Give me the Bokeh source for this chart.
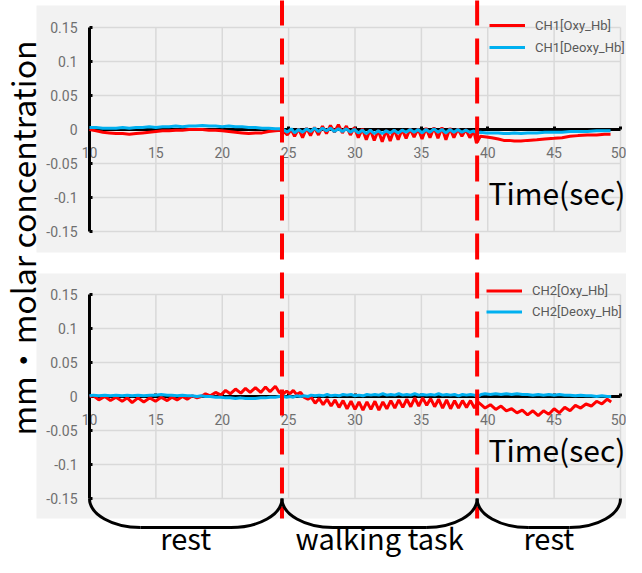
import math
from bokeh.plotting import figure
from bokeh.models import (Range1d, LinearAxis, FixedTicker, CustomJSTickFormatter,
                          Legend, LegendItem, Label)
from bokeh.core.properties import value
from bokeh.embed import file_html
from bokeh.resources import INLINE

# ---------------- data ----------------
x_ticks = [10, 15, 20, 25, 30, 35, 40, 45, 50]
y_ticks = [-0.15, -0.1, -0.05, 0, 0.05, 0.1, 0.15]
y_tick_labels = ["-0.15", "-0.1", "-0.05", "0", "0.05", "0.1", "0.15"]

event_times = [24.5, 39.2]
phase_starts = [10, 24.5, 39.2]
phase_ends = [24.5, 39.2, 50]
phase_labels = ["rest", "walking task", "rest"]

ch1_names = ["CH1[Oxy_Hb]", "CH1[Deoxy_Hb]"]
ch2_names = ["CH2[Oxy_Hb]", "CH2[Deoxy_Hb]"]

ch1_t = [10.0, 10.5, 11.0, 11.5, 12.0, 12.5, 13.0, 13.5, 14.0, 14.5,
         15.0, 15.5, 16.0, 16.5, 17.0, 17.5, 18.0, 18.5, 19.0, 19.5,
         20.0, 20.5, 21.0, 21.5, 22.0, 22.5, 23.0, 23.5, 24.0, 24.4,
         24.6, 24.9, 25.2, 25.45, 25.75, 26.05, 26.35, 26.65, 26.95, 27.25,
         27.55, 27.85, 28.15, 28.45, 28.75, 29.05, 29.35, 29.65, 29.95, 30.25,
         30.55, 30.85, 31.15, 31.45, 31.75, 32.05, 32.35, 32.65, 32.95, 33.25,
         33.55, 33.85, 34.15, 34.45, 34.75, 35.05, 35.35, 35.65, 35.95, 36.25,
         36.55, 36.85, 37.15, 37.45, 37.75, 38.05, 38.35, 38.65, 38.95, 39.15,
         39.45, 39.9, 40.3, 40.8, 41.2, 41.6, 42.0, 42.5, 43.0, 43.7,
         44.3, 45.0, 45.6, 46.2, 46.8, 47.5, 48.2, 48.8, 49.25]
ch1_oxy = [0.000, -0.002, -0.004, -0.005, -0.006, -0.006, -0.007, -0.006, -0.005, -0.004,
           -0.003, -0.002, -0.002, -0.001, -0.001, 0.000, 0.000, 0.000, -0.001, -0.001,
           -0.002, -0.003, -0.004, -0.005, -0.006, -0.005, -0.005, -0.003, -0.002, -0.001,
           -0.002, -0.008, 0.000, -0.010, 0.001, -0.012, 0.002, -0.009, 0.003, -0.008,
           0.005, -0.006, 0.006, -0.004, 0.007, -0.005, 0.005, -0.008, 0.003, -0.012,
           0.001, -0.015, 0.000, -0.016, -0.001, -0.018, -0.001, -0.017, 0.000, -0.015,
           0.000, -0.013, 0.001, -0.011, 0.001, -0.014, 0.002, -0.012, 0.003, -0.013,
           0.003, -0.015, 0.002, -0.012, 0.001, -0.010, 0.000, -0.012, -0.002, -0.020,
           -0.010, -0.011, -0.012, -0.014, -0.016, -0.016, -0.017, -0.017, -0.016, -0.015,
           -0.014, -0.013, -0.012, -0.010, -0.009, -0.008, -0.008, -0.007, -0.007]
ch1_deoxy = [0.003, 0.003, 0.002, 0.002, 0.002, 0.003, 0.002, 0.003, 0.003, 0.004,
             0.003, 0.004, 0.004, 0.005, 0.004, 0.005, 0.005, 0.006, 0.005, 0.005,
             0.004, 0.005, 0.004, 0.004, 0.003, 0.003, 0.002, 0.002, 0.001, 0.001,
             0.000, -0.004, 0.001, -0.005, 0.000, -0.004, 0.001, -0.003, 0.002, -0.003,
             0.002, -0.002, 0.002, -0.003, 0.001, -0.003, 0.001, -0.004, 0.000, -0.005,
             -0.001, -0.006, -0.001, -0.006, -0.002, -0.006, -0.002, -0.005, -0.001, -0.005,
             -0.001, -0.004, 0.000, -0.004, 0.000, -0.005, 0.000, -0.004, 0.001, -0.004,
             0.000, -0.005, 0.000, -0.004, 0.000, -0.004, -0.001, -0.004, -0.002, -0.005,
             -0.004, -0.005, -0.005, -0.005, -0.006, -0.006, -0.005, -0.006, -0.005, -0.005,
             -0.004, -0.004, -0.004, -0.003, -0.003, -0.003, -0.002, -0.002, -0.002]

ch2_t = [10.0, 10.3, 10.7, 11.15, 11.58, 12.0, 12.46, 12.85, 13.21, 13.65,
         14.09, 14.55, 14.97, 15.4, 15.85, 16.2, 16.6, 17.0, 17.36, 17.75,
         18.1, 18.4, 18.74, 19.1, 19.5, 19.9, 20.25, 20.6, 21.0, 21.4,
         21.75, 22.1, 22.5, 22.9, 23.26, 23.6, 24.0, 24.3,
         24.6, 24.85, 25.1, 25.35, 25.6, 25.9, 26.15, 26.45, 26.7, 27.0,
         27.3, 27.6, 27.9, 28.2, 28.5, 28.8, 29.1, 29.4, 29.7, 30.0,
         30.3, 30.6, 30.9, 31.2, 31.5, 31.8, 32.1, 32.4, 32.7, 33.0,
         33.3, 33.6, 33.9, 34.2, 34.5, 34.8, 35.1, 35.4, 35.7, 36.0,
         36.3, 36.6, 36.9, 37.2, 37.5, 37.8, 38.1, 38.4, 38.7, 39.0, 39.25,
         39.5, 39.8, 40.2, 40.6, 41.0, 41.4, 41.8, 42.2, 42.6, 43.0,
         43.4, 43.8, 44.2, 44.6, 45.0, 45.4, 45.8, 46.2, 46.6, 47.0,
         47.4, 47.8, 48.2, 48.6, 49.0, 49.3]
ch2_oxy = [0.000, 0.001, -0.005, 0.000, -0.006, -0.001, -0.007, -0.002, -0.009, -0.002,
           -0.008, -0.002, -0.007, -0.001, -0.006, -0.001, -0.005, 0.000, -0.004, 0.001,
           -0.002, 0.000, 0.004, 0.001, 0.006, 0.002, 0.009, 0.004, 0.011, 0.005,
           0.012, 0.006, 0.013, 0.006, 0.014, 0.007, 0.015, 0.006,
           0.004, 0.008, 0.004, 0.009, 0.003, 0.006, -0.001, -0.004, -0.001, -0.010,
           -0.003, -0.012, -0.004, -0.014, -0.005, -0.016, -0.006, -0.018, -0.007, -0.019,
           -0.008, -0.020, -0.008, -0.019, -0.007, -0.020, -0.008, -0.018, -0.006, -0.017,
           -0.005, -0.016, -0.004, -0.015, -0.002, -0.014, -0.002, -0.013, -0.003, -0.015,
           -0.004, -0.017, -0.005, -0.018, -0.006, -0.017, -0.006, -0.016, -0.006, -0.017, -0.008,
           -0.012, -0.017, -0.012, -0.019, -0.014, -0.021, -0.018, -0.024, -0.020, -0.027,
           -0.021, -0.028, -0.021, -0.026, -0.018, -0.024, -0.016, -0.021, -0.013, -0.017,
           -0.011, -0.014, -0.007, -0.011, -0.004, -0.008]
ch2_deoxy = [0.001, 0.002, 0.001, 0.002, 0.001, 0.002, 0.001, 0.002, 0.001, 0.002,
             0.001, 0.002, 0.002, 0.003, 0.002, 0.002, 0.001, 0.002, 0.001, 0.001,
             0.000, 0.001, 0.000, 0.000, -0.001, -0.001, -0.002, -0.002, -0.003, -0.002,
             -0.003, -0.003, -0.003, -0.002, -0.002, -0.001, -0.001, 0.000,
             0.000, -0.001, 0.000, -0.001, 0.001, 0.000, 0.001, 0.000, 0.002, 0.001,
             0.002, 0.001, 0.003, 0.001, 0.002, 0.001, 0.003, 0.002, 0.003, 0.001,
             0.002, 0.001, 0.003, 0.002, 0.003, 0.002, 0.004, 0.002, 0.003, 0.002,
             0.004, 0.002, 0.003, 0.002, 0.004, 0.002, 0.003, 0.002, 0.003, 0.002,
             0.004, 0.002, 0.003, 0.002, 0.003, 0.001, 0.003, 0.002, 0.003, 0.002, 0.000,
             0.003, 0.004, 0.003, 0.004, 0.003, 0.004, 0.003, 0.004, 0.003, 0.003,
             0.002, 0.003, 0.002, 0.003, 0.002, 0.003, 0.002, 0.002, 0.001, 0.002,
             0.001, 0.001, 0.000, 0.001, 0.000, 0.000]

assert len(ch1_t) == len(ch1_oxy) == len(ch1_deoxy)
assert len(ch2_t) == len(ch2_oxy) == len(ch2_deoxy)

# ---------------- layout (canvas pixels) ----------------
W, H = 626, 557
X10_PX, X50_PX = 89, 620
TOP_Y15_PX, TOP_YM15_PX = 27, 231
BOT_Y15_PX = 294
sec_per_px = 40.0 / (X50_PX - X10_PX)
val_per_px = 0.3 / (TOP_YM15_PX - TOP_Y15_PX)
x_start = 10 - X10_PX * sec_per_px
x_end = 50 + (W - X50_PX) * sec_per_px
top_end = 0.15 + TOP_Y15_PX * val_per_px
top_start = top_end - H * val_per_px
bot_end = 0.15 + BOT_Y15_PX * val_per_px
bot_start = bot_end - H * val_per_px


def tx(px):
    return x_start + px * sec_per_px


def ty(py, end):
    return end - py * val_per_px


RED = "#ff0000"
BLUE = "#00b0f0"
GRAY_BG = "#f2f2f2"
GRID = "#d9d9d9"
TICK_FONT = "Roboto"
JP_FONT = "Noto Sans CJK JP"

p = figure(width=W, height=H, x_range=Range1d(x_start, x_end),
           y_range=Range1d(top_start, top_end), output_backend="svg",
           toolbar_location=None, min_border=0, outline_line_color=None,
           background_fill_color="white", border_fill_color="white")
p.extra_y_ranges = {"bot": Range1d(bot_start, bot_end)}
p.xgrid.visible = False
p.ygrid.visible = False

# panel backgrounds
p.quad(left=[tx(36)], right=[tx(W + 20)], top=[ty(5, top_end)], bottom=[ty(252, top_end)],
       fill_color=GRAY_BG, line_color=None, level="image")
p.quad(left=[tx(36)], right=[tx(W + 20)], top=[ty(273, bot_end)], bottom=[ty(518, bot_end)],
       fill_color=GRAY_BG, line_color=None, level="image", y_range_name="bot")

# grid lines
for rn in ("default", "bot"):
    p.segment(x0=x_ticks, x1=x_ticks, y0=[min(y_ticks)] * len(x_ticks),
              y1=[max(y_ticks)] * len(x_ticks), line_color=GRID, line_width=1.5,
              level="image", y_range_name=rn)
    p.segment(x0=[min(x_ticks)] * len(y_ticks), x1=[max(x_ticks)] * len(y_ticks),
              y0=y_ticks, y1=y_ticks, line_color=GRID, line_width=1.5,
              level="image", y_range_name=rn)

y_fmt = CustomJSTickFormatter(args=dict(yt=y_ticks, yl=y_tick_labels), code="""
const i = yt.findIndex(t => Math.abs(t - tick) < 1e-9);
return i >= 0 ? yl[i] : '';
""")


def style_axis(ax):
    ax.axis_line_color = "black"
    ax.axis_line_width = 3
    ax.major_tick_line_color = "black"
    ax.major_tick_line_width = 3
    ax.major_tick_in = 3
    ax.major_tick_out = 0
    ax.minor_tick_line_color = None
    ax.major_label_text_font = TICK_FONT
    ax.major_label_text_font_size = "14px"
    ax.major_label_text_color = "#6f6f6f"
    ax.level = "underlay"


def setup_x(ax):
    style_axis(ax)
    ax.ticker = FixedTicker(ticks=x_ticks)
    ax.fixed_location = 0
    ax.bounds = (min(x_ticks), max(x_ticks))
    ax.major_label_standoff = 17


def setup_y(ax):
    style_axis(ax)
    ax.ticker = FixedTicker(ticks=y_ticks)
    ax.formatter = y_fmt
    ax.fixed_location = min(x_ticks)
    ax.bounds = (min(y_ticks), max(y_ticks))
    ax.major_label_standoff = 12


setup_x(p.below[0])
setup_y(p.left[0])
xa_bot = LinearAxis(y_range_name="bot")
setup_x(xa_bot)
p.add_layout(xa_bot, "below")
ya_bot = LinearAxis(y_range_name="bot")
setup_y(ya_bot)
p.add_layout(ya_bot, "left")

# data lines
r1 = p.line(ch1_t, ch1_oxy, line_color=RED, line_width=3)
r2 = p.line(ch1_t, ch1_deoxy, line_color=BLUE, line_width=3)
r3 = p.line(ch2_t, ch2_oxy, line_color=RED, line_width=3, y_range_name="bot")
r4 = p.line(ch2_t, ch2_deoxy, line_color=BLUE, line_width=3, y_range_name="bot")

# event (dashed) lines
p.segment(x0=event_times, x1=event_times,
          y0=[ty(-1, bot_end)] * len(event_times), y1=[ty(518, bot_end)] * len(event_times),
          line_color=RED, line_width=4, line_dash="26 13", y_range_name="bot")

# braces under the lower panel
k = 0.5523
cw = 51 * sec_per_px
dep = 29 * val_per_px
ytop = min(y_ticks)
ybot = ytop - dep
bx0, by0, bx1, by1, bcx0, bcy0, bcx1, bcy1 = [], [], [], [], [], [], [], []
fx0, fx1 = [], []
for a, b in zip(phase_starts, phase_ends):
    for edge, sgn in ((a, 1), (b, -1)):
        bx0.append(edge); by0.append(ytop)
        bx1.append(edge + sgn * cw); by1.append(ybot)
        bcx0.append(edge); bcy0.append(ytop - k * dep)
        bcx1.append(edge + sgn * cw * (1 - k)); bcy1.append(ybot)
    fx0.append(a + cw); fx1.append(b - cw)
p.bezier(x0=bx0, y0=by0, x1=bx1, y1=by1, cx0=bcx0, cy0=bcy0, cx1=bcx1, cy1=bcy1,
         line_color="black", line_width=3, y_range_name="bot")
p.segment(x0=fx0, x1=fx1, y0=[ybot] * len(fx0), y1=[ybot] * len(fx0),
          line_color="black", line_width=3, y_range_name="bot")

mids = [(a + b) / 2 for a, b in zip(phase_starts, phase_ends)]
p.text(x=mids, y=[ty(536, bot_end)] * len(mids), text=phase_labels, y_range_name="bot",
       text_align="center", text_baseline="alphabetic", text_font=value(JP_FONT),
       text_font_size="29px", text_color="black")

# texts
p.add_layout(Label(x=tx(488), y=ty(191, top_end), text="Time(sec)", text_align="left",
                   text_baseline="alphabetic", text_font=JP_FONT, text_font_size="30px",
                   text_color="black"))
p.add_layout(Label(x=tx(488), y=ty(448, bot_end), y_range_name="bot", text="Time(sec)",
                   text_align="left", text_baseline="alphabetic", text_font=JP_FONT,
                   text_font_size="30px", text_color="black"))
p.add_layout(Label(x=tx(21), y=ty(237.5, top_end), angle=math.pi / 2,
                   text="mm・molar concentration", text_align="center",
                   text_baseline="middle", text_font=JP_FONT, text_font_size="32px",
                   text_color="black"))


def make_legend(names, rends, loc, row_h):
    leg = Legend(items=[LegendItem(label=n, renderers=[r]) for n, r in zip(names, rends)],
                 location=loc, glyph_width=36, glyph_height=row_h, label_height=row_h,
                 label_standoff=10, spacing=0, padding=0, margin=0,
                 border_line_color=None, background_fill_alpha=0,
                 label_text_font=TICK_FONT, label_text_font_size="13px",
                 label_text_color="#595959")
    return leg


p.add_layout(make_legend(ch1_names, [r1, r2], (489, H - 58), 22), "center")
p.add_layout(make_legend(ch2_names, [r3, r4], (486, H - 322), 21), "center")

open("out.html", "w").write(file_html(p, INLINE))
